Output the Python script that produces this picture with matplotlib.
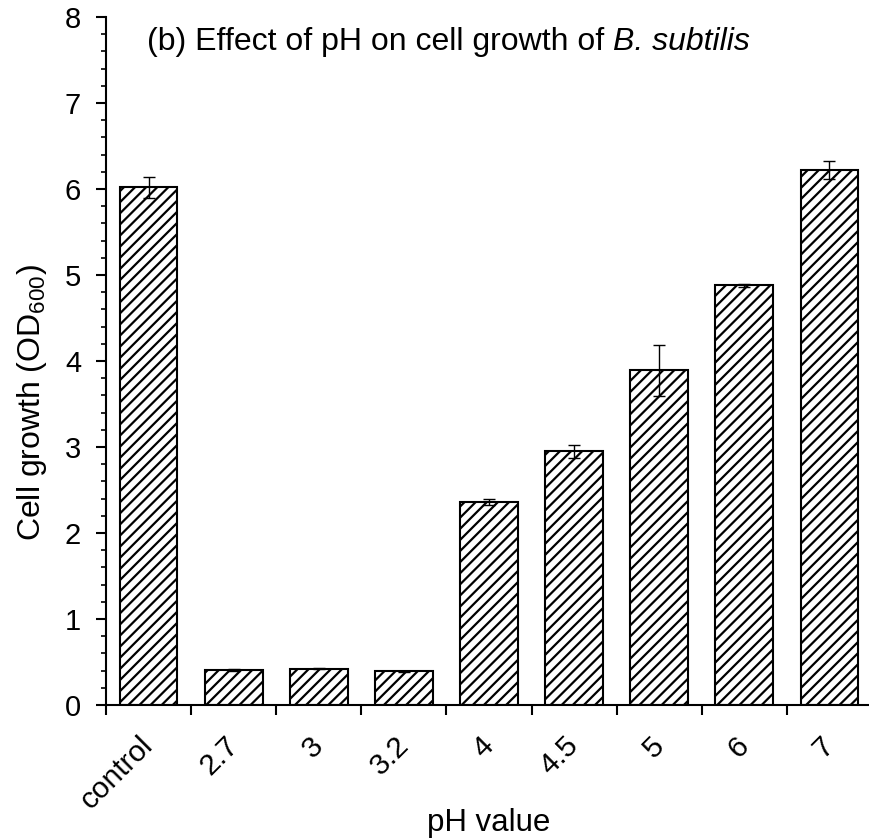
import matplotlib
matplotlib.use('Agg')
from matplotlib import pyplot as plt
from matplotlib.ticker import MultipleLocator

# data
labels = ['control', '2.7', '3', '3.2', '4', '4.5', '5', '6', '7']
growth = [6.02, 0.41, 0.42, 0.39, 2.36, 2.95, 3.89, 4.88, 6.22]
errors = [0.12, 0.01, 0.005, 0.005, 0.03, 0.075, 0.30, 0.02, 0.10]

plt.rcParams['font.family'] = ['Liberation Sans', 'DejaVu Sans']
plt.rcParams['mathtext.fontset'] = 'custom'
plt.rcParams['mathtext.rm'] = 'Liberation Sans'
plt.rcParams['hatch.linewidth'] = 1.6
plt.rcParams['hatch.color'] = '#333333'

fig = plt.figure(figsize=(8.69, 8.38), dpi=100)
# x axis runs a little past the right edge of the picture, as in the reference
ax = fig.add_axes([106 / 869, 133 / 838, 766 / 869, 688 / 838])

x = range(len(labels))
ax.bar(x, growth, width=0.68, color='white', edgecolor='black',
       linewidth=1.5, hatch='///', zorder=2)
ax.errorbar(x, growth, yerr=errors, fmt='none', ecolor='black',
            elinewidth=1, capsize=4.5, capthick=1, zorder=3)

ax.set_xlim(-0.5, len(labels) - 0.5)
ax.set_ylim(0, 8)
ax.yaxis.set_major_locator(MultipleLocator(1))
ax.yaxis.set_minor_locator(MultipleLocator(0.2))
ax.set_xticks([i - 0.5 for i in range(len(labels) + 1)])
ax.set_xticklabels([])
# category labels hang from invisible ticks nudged a little right of centre
ax.set_xticks([i + 0.12 for i in x], minor=True)
ax.set_xticklabels(labels, minor=True, rotation=45, ha='right', va='top',
                   fontsize=21.5)
ax.tick_params(axis='x', which='minor', length=0, pad=19)
ax.tick_params(axis='x', which='major', length=7, width=1.5)
ax.tick_params(axis='y', which='major', length=7, width=1.5, labelsize=21, pad=11)
ax.tick_params(axis='y', which='minor', length=3.5, width=1.2)

for s in ['top', 'right']:
    ax.spines[s].set_visible(False)
for s in ['left', 'bottom']:
    ax.spines[s].set_linewidth(1.5)

ax.set_ylabel('Cell growth (OD$_{600}$)', fontsize=23)
ax.yaxis.set_label_coords(-0.074, 0.44)
ax.set_xlabel('pH value', fontsize=22.5, va='top')
ax.xaxis.set_label_coords(0.5, -0.150)

t1 = ax.text(0.0535, 0.985, '(b) Effect of pH on cell growth of ',
             transform=ax.transAxes, fontsize=23, va='top', ha='left')
ax.annotate('B. subtilis', xy=(1, 0), xycoords=t1, va='bottom', ha='left',
            fontsize=23, style='italic')

plt.savefig('out.png', dpi=100)
